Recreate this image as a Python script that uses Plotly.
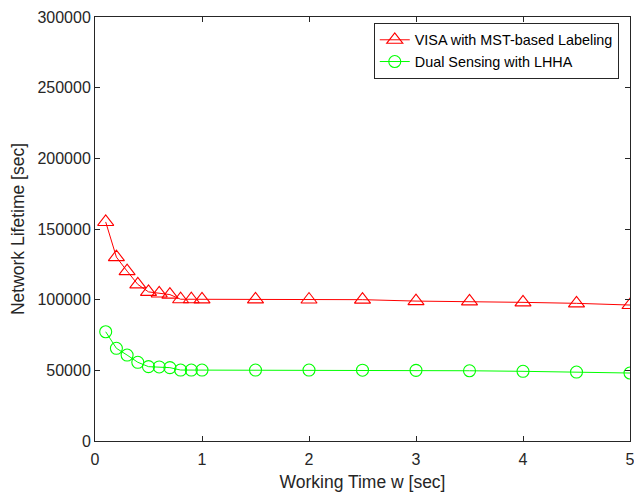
import plotly.graph_objects as go

# Working time w [sec]
working_time = [0.1, 0.2, 0.3, 0.4, 0.5, 0.6, 0.7, 0.8, 0.9, 1.0,
                1.5, 2.0, 2.5, 3.0, 3.5, 4.0, 4.5, 5.0]

# Network lifetime [sec] for each scheme
visa_mst = [155000, 130100, 120200, 110800, 105500, 104400, 103600, 100300, 100300, 100200,
            100200, 100100, 100000, 99000, 98800, 98100, 97400, 96200]
dual_lhha = [77300, 65600, 60800, 55700, 52600, 52400, 51900, 50200, 50200, 50200,
             50200, 50200, 50100, 50000, 49700, 49300, 48800, 48100]

series_names = ["VISA with MST-based Labeling", "Dual Sensing with LHHA"]

x_ticks = [0, 1, 2, 3, 4, 5]
y_ticks = [0, 50000, 100000, 150000, 200000, 250000, 300000]

FONT = "Liberation Sans, Arial, Helvetica, sans-serif"
AXIS_COLOR = "#262626"

fig = go.Figure()
fig.add_trace(go.Scatter(
    x=working_time, y=visa_mst, name=series_names[0], mode="lines+markers",
    line=dict(color="#ff0000", width=1),
    marker=dict(symbol="triangle-up-open", size=14, color="#ff0000",
                line=dict(width=1.1, color="#ff0000")),
))
fig.add_trace(go.Scatter(
    x=working_time, y=dual_lhha, name=series_names[1], mode="lines+markers",
    line=dict(color="#00ff00", width=1),
    marker=dict(symbol="circle-open", size=12, color="#00ff00",
                line=dict(width=1.1, color="#00ff00")),
))

axis_common = dict(
    showgrid=False, zeroline=False, showline=True, linecolor=AXIS_COLOR, linewidth=1,
    mirror="ticks", ticks="inside", ticklen=5, tickcolor=AXIS_COLOR, tickwidth=1,
    tickfont=dict(family=FONT, size=16, color=AXIS_COLOR),
    ticklabeloverflow="allow", automargin=False,
)

fig.update_xaxes(
    range=[0, 5], tickvals=x_ticks, ticktext=[str(v) for v in x_ticks],
    ticklabelstandoff=4,
    title=dict(text="Working Time w [sec]", font=dict(family=FONT, size=17.5, color=AXIS_COLOR),
               standoff=8),
    **axis_common,
)
fig.update_yaxes(
    range=[0, 300000], tickvals=y_ticks, ticktext=[str(v) for v in y_ticks],
    title=dict(text="Network Lifetime [sec]", font=dict(family=FONT, size=17.5, color=AXIS_COLOR),
               standoff=8),
    **axis_common,
)

fig.update_layout(
    width=634, height=492,
    margin=dict(l=95, r=4, t=17, b=51),
    paper_bgcolor="white", plot_bgcolor="white",
    font=dict(family=FONT, color=AXIS_COLOR),
    showlegend=True,
    legend=dict(
        x=0.979, y=0.986, xanchor="right", yanchor="top",
        bgcolor="white", bordercolor="#262626", borderwidth=1,
        font=dict(family=FONT, size=14.4, color="#000000"),
        tracegroupgap=0, itemwidth=30,
    ),
)

fig.write_html("out.html")
